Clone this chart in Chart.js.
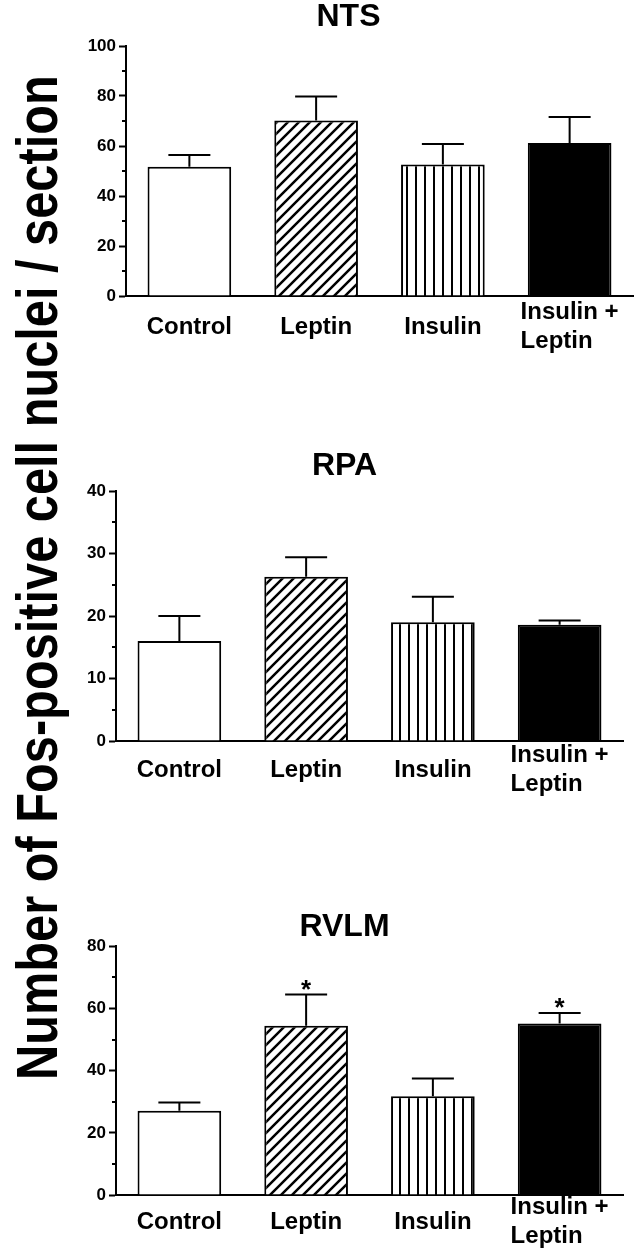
<!DOCTYPE html>
<html>
<head>
<meta charset="utf-8">
<script src="https://cdn.jsdelivr.net/npm/chart.js@4"></script>
<style>
    body { margin: 0; background: #fff; width: 638px; height: 1255px; overflow: hidden; position: relative; }
    canvas { position: absolute; }
    #ylab {
        position: absolute; left: 0; top: 0;
        font: bold 58px "Liberation Sans", Arial, sans-serif;
        line-height: 1; white-space: nowrap; color: #000;
        transform-origin: 0 0;
    }
</style>
</head>
<body>
<div id="ylab">Number of Fos-positive cell nuclei / section</div>
<canvas id="ntsChart"></canvas>
<canvas id="rpaChart"></canvas>
<canvas id="rvlmChart"></canvas>
<script>
// Groups (x categories)
const categories = ['Control', 'Leptin', 'Insulin', ['Insulin +', 'Leptin']];

// NTS
const ntsMean = [51.7, 70.2, 52.6, 61.2];
const ntsSem = [4.7, 9.6, 8.2, 10.4];
const ntsMarks = ['', '', '', ''];

// RPA
const rpaMean = [16.0, 26.3, 19.0, 18.6];
const rpaSem = [4.0, 3.1, 4.1, 0.7];
const rpaMarks = ['', '', '', ''];

// RVLM
const rvlmMean = [27.1, 54.5, 31.8, 55.2];
const rvlmSem = [2.7, 10.0, 5.7, 3.4];
const rvlmMarks = ['', '*', '', '*'];

const FONT = '"Liberation Sans", Arial, sans-serif';

// Fill patterns for the bars
function hatchPattern() {
    const c = document.createElement('canvas');
    c.width = c.height = 11;
    const g = c.getContext('2d');
    g.fillStyle = '#fff';
    g.fillRect(0, 0, 11, 11);
    g.strokeStyle = '#000';
    g.lineWidth = 2.5;
    g.beginPath();
    [-11, 0, 11].forEach(k => {
        g.moveTo(k - 1, 12);
        g.lineTo(k + 12, -1);
    });
    g.stroke();
    return g.createPattern(c, 'repeat');
}

function stripePattern() {
    const c = document.createElement('canvas');
    c.width = 9;
    c.height = 4;
    const g = c.getContext('2d');
    g.fillStyle = '#fff';
    g.fillRect(0, 0, 9, 4);
    g.fillStyle = '#000';
    g.fillRect(0, 0, 2, 4);
    return g.createPattern(c, 'repeat');
}

const fills = ['#ffffff', hatchPattern(), stripePattern(), '#000000'];

// Error bars, significance marks, minor ticks and category labels
const barExtras = {
    id: 'barExtras',
    afterDatasetsDraw(chart, args, opts) {
        const ctx = chart.ctx;
        const y = chart.scales.y;
        const x = chart.scales.x;
        const vals = chart.data.datasets[0].data;
        const bars = chart.getDatasetMeta(0).data;
        ctx.save();
        ctx.strokeStyle = '#000';
        ctx.fillStyle = '#000';
        ctx.lineWidth = 2;

        bars.forEach((bar, i) => {
            const top = y.getPixelForValue(vals[i]);
            const tip = y.getPixelForValue(vals[i] + opts.errors[i]);
            ctx.beginPath();
            ctx.moveTo(bar.x, top);
            ctx.lineTo(bar.x, tip);
            ctx.moveTo(bar.x - 21, tip);
            ctx.lineTo(bar.x + 21, tip);
            ctx.stroke();
            if (opts.marks[i]) {
                ctx.font = 'bold 26px ' + FONT;
                ctx.textAlign = 'center';
                ctx.textBaseline = 'alphabetic';
                ctx.fillText(opts.marks[i], bar.x, tip + 3);
            }
        });

        // minor ticks halfway between labelled ticks
        ctx.beginPath();
        for (let v = opts.minorStep; v < y.max; v += 2 * opts.minorStep) {
            const py = Math.round(y.getPixelForValue(v));
            ctx.moveTo(chart.chartArea.left - 4, py);
            ctx.lineTo(chart.chartArea.left, py);
        }
        ctx.stroke();

        // category labels, multi-line ones left aligned inside a centred block
        ctx.font = 'bold 24px ' + FONT;
        ctx.textBaseline = 'middle';
        ctx.textAlign = 'left';
        chart.data.labels.forEach((lab, i) => {
            const lines = Array.isArray(lab) ? lab : [lab];
            const w = Math.max(...lines.map(l => ctx.measureText(l).width));
            const cx = x.getPixelForTick(i);
            const cy = chart.chartArea.bottom + opts.labelGap;
            lines.forEach((l, k) => {
                ctx.fillText(l, cx - w / 2, cy + (k - (lines.length - 1) / 2) * 29);
            });
        });
        ctx.restore();
    }
};

function makePanel(id, cfg) {
    const canvas = document.getElementById(id);
    canvas.width = 638 - cfg.left;
    canvas.height = cfg.height;
    canvas.style.left = cfg.left + 'px';
    canvas.style.top = cfg.top + 'px';

    return new Chart(canvas.getContext('2d'), {
        type: 'bar',
        data: {
            labels: categories,
            datasets: [{
                data: cfg.means,
                backgroundColor: fills,
                borderColor: '#000',
                borderWidth: 2,
                barPercentage: 0.66,
                categoryPercentage: 1
            }]
        },
        options: {
            responsive: false,
            animation: false,
            devicePixelRatio: 1,
            layout: { padding: { left: 0, right: cfg.padRight, top: 0, bottom: 0 } },
            plugins: {
                legend: { display: false },
                tooltip: { enabled: false },
                title: {
                    display: true,
                    text: cfg.title,
                    color: '#000',
                    font: { family: FONT, size: 32, weight: 'bold' },
                    padding: { top: 4, bottom: cfg.titleGap }
                },
                barExtras: {
                    errors: cfg.sem,
                    marks: cfg.marks,
                    minorStep: cfg.step / 2,
                    labelGap: cfg.labelGap
                }
            },
            scales: {
                x: {
                    ticks: { display: false },
                    grid: { display: false },
                    border: { display: true, color: '#000', width: 2 },
                    afterFit: s => { s.height = 60; }
                },
                y: {
                    min: 0,
                    max: cfg.max,
                    ticks: {
                        stepSize: cfg.step,
                        color: '#000',
                        padding: 3,
                        font: { family: FONT, size: 17, weight: 'bold' }
                    },
                    grid: {
                        display: true,
                        drawOnChartArea: false,
                        drawTicks: true,
                        tickLength: 7,
                        tickWidth: 2,
                        tickColor: '#000'
                    },
                    border: { display: true, color: '#000', width: 2 },
                    afterFit: s => { s.width = cfg.axisWidth; }
                }
            }
        },
        plugins: [barExtras]
    });
}

makePanel('ntsChart', {
    title: 'NTS', means: ntsMean, sem: ntsSem, marks: ntsMarks, max: 100, step: 20,
    left: 64, top: -6, height: 362, axisWidth: 62, padRight: 5, titleGap: 9.6, labelGap: 31
});
makePanel('rpaChart', {
    title: 'RPA', means: rpaMean, sem: rpaSem, marks: rpaMarks, max: 40, step: 10,
    left: 66, top: 443, height: 358, axisWidth: 50, padRight: 15, titleGap: 5.6, labelGap: 29
});
makePanel('rvlmChart', {
    title: 'RVLM', means: rvlmMean, sem: rvlmSem, marks: rvlmMarks, max: 80, step: 20,
    left: 66, top: 904, height: 351, axisWidth: 50, padRight: 15, titleGap: 0, labelGap: 27
});

// shared rotated y-axis title, squeezed to its length in the figure
const ylab = document.getElementById('ylab');
const sx = 1005 / ylab.offsetWidth;
ylab.style.transform = 'translate(8px, 1080px) rotate(-90deg) scale(' + sx + ', 1)';
</script>
</body>
</html>
